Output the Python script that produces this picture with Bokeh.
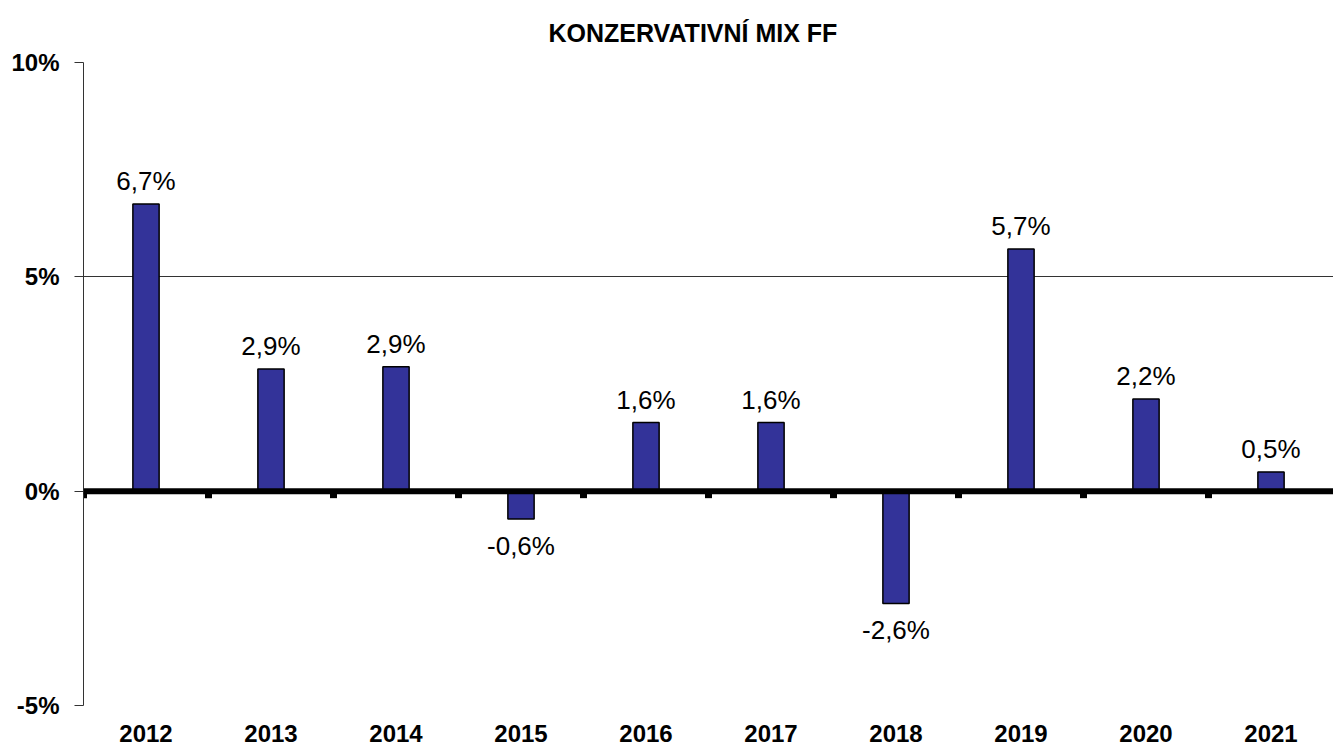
from bokeh.plotting import figure
from bokeh.models import (ColumnDataSource, FactorRange, FixedTicker, Span, LabelSet, Title)
from bokeh.core.properties import value
from bokeh.transform import dodge
from bokeh.embed import file_html
from bokeh.resources import INLINE

years = ["2012", "2013", "2014", "2015", "2016", "2017", "2018", "2019", "2020", "2021"]
returns = [6.7, 2.85, 2.9, -0.65, 1.6, 1.6, -2.62, 5.65, 2.15, 0.45]
labels = ["6,7%", "2,9%", "2,9%", "-0,6%", "1,6%", "1,6%", "-2,6%", "5,7%", "2,2%", "0,5%"]
y_ticks = [-5, 0, 5, 10]
y_tick_labels = ["-5%", "0%", "5%", "10%"]
title_text = "KONZERVATIVNÍ  MIX FF"

FONT = "Liberation Sans"
Y_MIN, Y_MAX = -5, 10
FRAME_H = 643
TICK_LEN = (Y_MAX - Y_MIN) / FRAME_H * 7  # 7px tick mark below zero line

src = ColumnDataSource(dict(year=years, val=returns, lab=labels))
pos = ColumnDataSource(dict(year=[y for y, v in zip(years, returns) if v >= 0],
                            val=[v for v in returns if v >= 0],
                            lab=[l for l, v in zip(labels, returns) if v >= 0]))
neg = ColumnDataSource(dict(year=[y for y, v in zip(years, returns) if v < 0],
                            val=[v for v in returns if v < 0],
                            lab=[l for l, v in zip(labels, returns) if v < 0]))

p = figure(width=1333, height=747, x_range=FactorRange(*years, range_padding=0),
           y_range=(Y_MIN, Y_MAX), output_backend="svg", toolbar_location=None,
           min_border_left=83, min_border_right=0, min_border_top=62, min_border_bottom=42)
p.title = Title(text=title_text, align="left", offset=465, standoff=31, text_font=FONT,
                text_font_size="25px", text_font_style="bold", text_color="black")
p.outline_line_color = None
p.background_fill_color = "white"
p.border_fill_color = "white"

# category boundary tick marks below the zero line
p.vbar(x=dodge("year", -0.5, range=p.x_range), top=0, bottom=-TICK_LEN, width=0.056,
       source=src, fill_color="black", line_color=None)

p.vbar(x="year", top="val", bottom=0, width=0.21, source=src,
       fill_color="#333399", line_color="black", line_width=1.5)

p.add_layout(Span(location=0, dimension="width", line_color="black", line_width=6))

p.add_layout(LabelSet(x="year", y="val", text="lab", source=pos, text_align="center",
                      text_baseline="bottom", y_offset=8, text_font=value(FONT),
                      text_font_size="26px", text_color="black"))
p.add_layout(LabelSet(x="year", y="val", text="lab", source=neg, text_align="center",
                      text_baseline="top", y_offset=-12, text_font=value(FONT),
                      text_font_size="26px", text_color="black"))

p.xgrid.grid_line_color = None
p.ygrid.ticker = FixedTicker(ticks=y_ticks)
p.ygrid.grid_line_color = "#333333"
p.ygrid.grid_line_width = 1

p.yaxis.ticker = FixedTicker(ticks=y_ticks)
p.yaxis.major_label_overrides = {t: l for t, l in zip(y_ticks, y_tick_labels)}
p.yaxis.major_label_text_font = FONT
p.yaxis.major_label_text_font_size = "24px"
p.yaxis.major_label_text_font_style = "bold"
p.yaxis.major_label_text_color = "black"
p.yaxis.axis_line_color = "#333333"
p.yaxis.major_tick_line_color = "#333333"
p.yaxis.major_tick_out = 9
p.yaxis.major_tick_in = 0
p.yaxis.minor_tick_line_color = None
p.yaxis.major_label_standoff = 15

p.xaxis.axis_line_color = None
p.xaxis.major_tick_line_color = None
p.xaxis.minor_tick_line_color = None
p.xaxis.major_label_text_font = FONT
p.xaxis.major_label_text_font_size = "24px"
p.xaxis.major_label_text_font_style = "bold"
p.xaxis.major_label_text_color = "black"
p.xaxis.major_label_standoff = 13

open("out.html", "w").write(file_html(p, INLINE))
